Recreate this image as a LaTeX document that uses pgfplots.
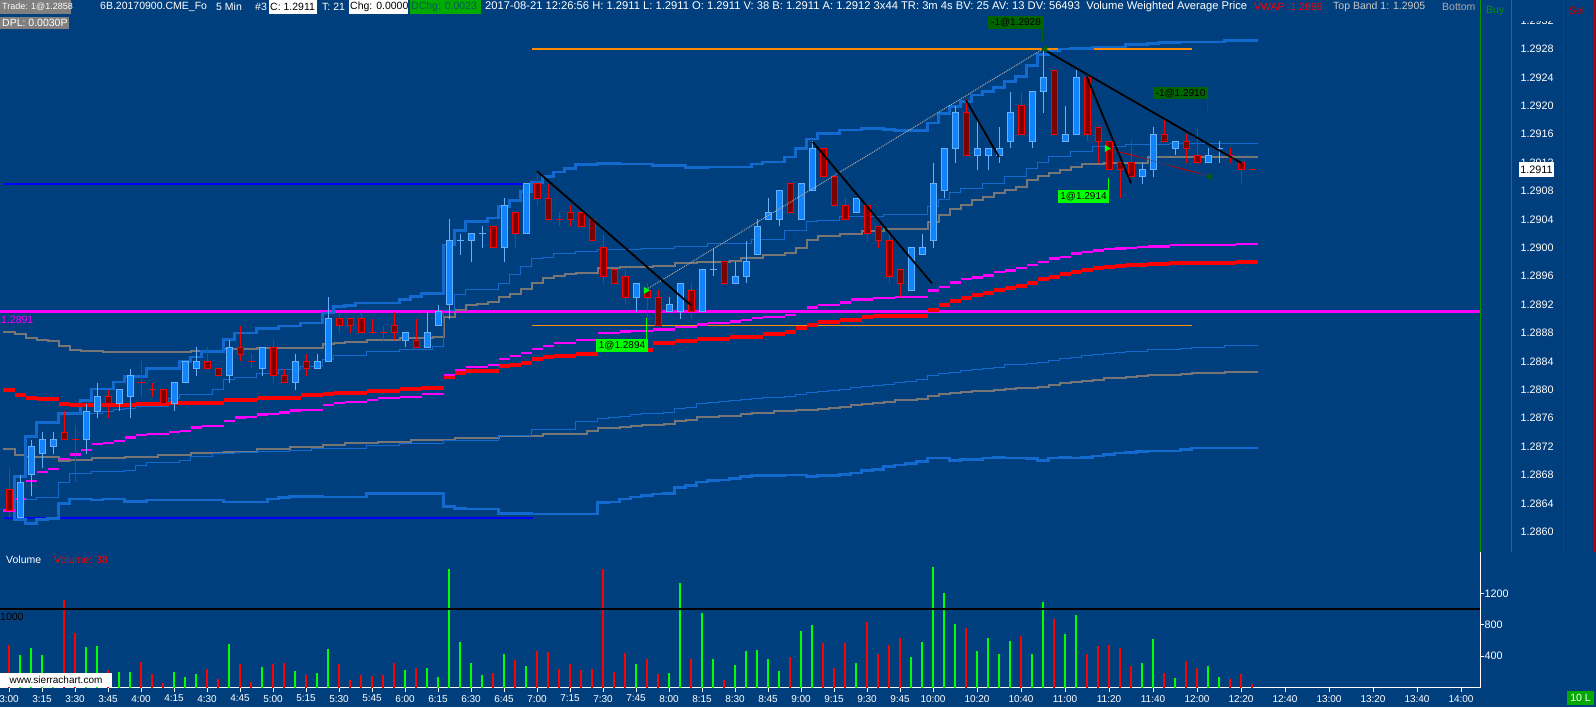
\documentclass[border=0pt]{standalone}
\usepackage{fontspec}
\setmainfont{Liberation Sans}
\usepackage{pgfplots}
\usepackage{pgfplotstable}
\pgfplotsset{compat=1.18}
\definecolor{bg}{RGB}{0,63,125}
\definecolor{upfill}{RGB}{16,132,255}
\definecolor{upline}{RGB}{100,178,255}
\definecolor{dnfill}{RGB}{128,0,0}
\definecolor{dnline}{RGB}{255,0,0}
\definecolor{band}{RGB}{18,106,206}
\definecolor{greyl}{RGB}{118,118,118}
\definecolor{vgreen}{RGB}{0,255,0}
\definecolor{vred}{RGB}{255,0,0}
\definecolor{orangel}{RGB}{255,140,0}
\definecolor{darkgr}{RGB}{0,100,0}
\definecolor{hdrgrey}{RGB}{128,128,128}
\definecolor{dchg}{RGB}{0,170,0}
\definecolor{dchgtext}{RGB}{0,90,90}
\definecolor{buyg}{RGB}{0,150,0}
\definecolor{sellr}{RGB}{200,0,0}
\definecolor{mag}{RGB}{255,0,255}
\definecolor{pureblue}{RGB}{0,0,255}

% i O H L C V  (up bars)
\pgfplotstableread{
i O H L C V
1 1.2862 1.2868 1.2862 1.2867 418
2 1.2868 1.2873 1.2865 1.2872 508
3 1.2871 1.2874 1.2869 1.2873 418
4 1.2872 1.2874 1.2871 1.2873 60
7 1.2873 1.2878 1.2871 1.2877 521
8 1.2877 1.2881 1.2876 1.2879 534
10 1.2878 1.2880 1.2877 1.2880 200
11 1.2879 1.2883 1.2876 1.2882 200
15 1.2878 1.2881 1.2877 1.2881 200
16 1.2881 1.2884 1.2881 1.2884 137
17 1.2883 1.2886 1.2882 1.2884 175
20 1.2882 1.2887 1.2881 1.2886 559
23 1.2883 1.2886 1.2882 1.2886 265
26 1.2881 1.2885 1.2880 1.2884 213
28 1.2883 1.2885 1.2883 1.2884 188
29 1.2884 1.2893 1.2884 1.2890 495
36 1.2887 1.2888 1.2886 1.2888 226
38 1.2886 1.2891 1.2886 1.2888 252
39 1.2889 1.2892 1.2889 1.2891 137
40 1.2892 1.2904 1.2890 1.2901 1507
41 1.2901 1.2902 1.2899 1.2901 585
42 1.2901 1.2902 1.2898 1.2902 316
43 1.2902 1.2903 1.2900 1.2902 162
45 1.2900 1.2907 1.2898 1.2906 431
47 1.2902 1.2909 1.2902 1.2909 278
57 1.2893 1.2895 1.2891 1.2895 303
60 1.2891 1.2893 1.2891 1.2892 188
61 1.2891 1.2895 1.2890 1.2895 1328
63 1.2891 1.2897 1.2891 1.2897 956
64 1.2897 1.2900 1.2896 1.2897 367
66 1.2895 1.2898 1.2895 1.2896 290
67 1.2896 1.2901 1.2895 1.2898 470
68 1.2899 1.2904 1.2899 1.2903 482
69 1.2904 1.2907 1.2904 1.2905 367
70 1.2904 1.2908 1.2903 1.2908 213
72 1.2904 1.2909 1.2904 1.2909 726
73 1.2908 1.2915 1.2908 1.2914 803
77 1.2905 1.2907 1.2905 1.2907 316
82 1.2894 1.2900 1.2894 1.2900 393
83 1.2899 1.2902 1.2899 1.2900 585
84 1.2901 1.2912 1.2900 1.2909 1533
85 1.2908 1.2914 1.2907 1.2914 1200
86 1.2914 1.2920 1.2912 1.2919 816
88 1.2913 1.2918 1.2911 1.2914 470
89 1.2913 1.2914 1.2911 1.2914 636
90 1.2913 1.2917 1.2912 1.2914 431
91 1.2915 1.2922 1.2914 1.2919 598
93 1.2915 1.2922 1.2914 1.2922 431
94 1.2922 1.2928 1.2919 1.2924 1085
96 1.2915 1.2920 1.2915 1.2916 687
97 1.2916 1.2925 1.2916 1.2924 931
103 1.2910 1.2912 1.2909 1.2911 316
104 1.2911 1.2917 1.2910 1.2916 623
106 1.2914 1.2915 1.2913 1.2915 124
109 1.2912 1.2914 1.2912 1.2913 278
110 1.2914 1.2915 1.2912 1.2914 137
}\upT

% down bars
\pgfplotstableread{
i O H L C V
0 1.2866 1.2869 1.2862 1.2863 547
5 1.2874 1.2877 1.2873 1.2873 1110
6 1.2873 1.2875 1.2867 1.2873 700
9 1.2879 1.2880 1.2876 1.2878 226
12 1.2881 1.2884 1.2879 1.2881 329
13 1.2880 1.2881 1.2879 1.2880 175
14 1.2880 1.2880 1.2878 1.2878 60
18 1.2884 1.2886 1.2883 1.2883 239
19 1.2883 1.2883 1.2882 1.2882 111
21 1.2886 1.2889 1.2884 1.2885 303
22 1.2884 1.2885 1.2883 1.2884 73
24 1.2886 1.2887 1.2881 1.2882 303
25 1.2882 1.2883 1.2881 1.2881 316
27 1.2884 1.2885 1.2882 1.2883 162
30 1.2890 1.2891 1.2888 1.2889 303
31 1.2890 1.2890 1.2888 1.2889 98
32 1.2890 1.2891 1.2888 1.2888 162
33 1.2888 1.2890 1.2888 1.2888 149
34 1.2888 1.2889 1.2887 1.2888 162
35 1.2889 1.2891 1.2887 1.2888 316
37 1.2887 1.2890 1.2886 1.2886 252
44 1.2903 1.2903 1.2900 1.2900 188
46 1.2905 1.2905 1.2900 1.2902 354
48 1.2909 1.2911 1.2906 1.2907 470
49 1.2907 1.2909 1.2904 1.2904 457
50 1.2904 1.2905 1.2903 1.2904 239
51 1.2905 1.2906 1.2903 1.2904 303
52 1.2905 1.2905 1.2903 1.2903 226
53 1.2904 1.2904 1.2901 1.2901 239
54 1.2900 1.2902 1.2895 1.2896 1507
55 1.2897 1.2897 1.2895 1.2895 200
56 1.2896 1.2897 1.2892 1.2893 444
58 1.2894 1.2895 1.2890 1.2893 367
59 1.2893 1.2894 1.2889 1.2889 175
62 1.2894 1.2895 1.2890 1.2891 367
65 1.2898 1.2898 1.2895 1.2895 98
71 1.2909 1.2909 1.2905 1.2905 393
74 1.2914 1.2914 1.2910 1.2910 572
75 1.2910 1.2910 1.2906 1.2906 252
76 1.2906 1.2907 1.2904 1.2904 572
78 1.2906 1.2906 1.2901 1.2902 841
79 1.2903 1.2903 1.2900 1.2901 431
80 1.2901 1.2902 1.2895 1.2896 547
81 1.2897 1.2897 1.2893 1.2895 636
87 1.2919 1.2921 1.2913 1.2913 764
92 1.2920 1.2922 1.2916 1.2916 662
95 1.2925 1.2925 1.2916 1.2916 880
98 1.2924 1.2924 1.2915 1.2916 431
99 1.2917 1.2917 1.2912 1.2915 534
100 1.2915 1.2915 1.2911 1.2911 547
101 1.2912 1.2912 1.2907 1.2911 508
102 1.2912 1.2915 1.2910 1.2910 278
105 1.2916 1.2918 1.2915 1.2915 188
107 1.2915 1.2916 1.2912 1.2914 342
108 1.2913 1.2917 1.2912 1.2912 252
111 1.2913 1.2914 1.2912 1.2913 111
112 1.2912 1.2912 1.2909 1.2911 175
113 1.2911 1.2911 1.2911 1.2911 47
}\dnT

\pgfplotstableread{
x y
-0.5 1.28800
0.5 1.28793
1.5 1.28789
2.5 1.28787
4.5 1.28780
5.5 1.28778
11.5 1.28780
14.5 1.28782
19.5 1.28786
22.5 1.28789
26.5 1.28792
28.5 1.28794
29.5 1.28795
30.5 1.28796
32.5 1.28799
35.5 1.28801
37.5 1.28802
39.5 1.28802
}\redA

\pgfplotstableread{
x y
39.5 1.28818
40.5 1.28823
41.5 1.28826
43.5 1.28827
44.5 1.28833
45.5 1.28835
46.5 1.28838
47.5 1.28843
48.5 1.28846
49.5 1.28848
51.5 1.28851
53.5 1.28856
58.5 1.28866
60.5 1.28869
62.5 1.28871
65.5 1.28875
68.5 1.28879
70.5 1.28882
71.5 1.28887
72.5 1.28891
73.5 1.28895
75.5 1.28898
77.5 1.28902
78.5 1.28904
83.5 1.28913
84.5 1.28919
85.5 1.28925
86.5 1.28929
87.5 1.28934
88.5 1.28937
89.5 1.28940
90.5 1.28943
91.5 1.28946
92.5 1.28951
93.5 1.28956
94.5 1.28959
95.5 1.28963
96.5 1.28966
97.5 1.28969
98.5 1.28971
99.5 1.28973
100.5 1.28974
101.5 1.28976
103.5 1.28977
105.5 1.28978
108.5 1.28979
111.5 1.28980
113.5 1.28980
}\redB

\pgfplotstableread{
x y
-0.5 1.28630
0.5 1.28646
1.5 1.28672
2.5 1.28684
3.5 1.28688
4.5 1.28703
5.5 1.28709
6.5 1.28715
7.5 1.28724
8.5 1.28725
9.5 1.28728
10.5 1.28733
11.5 1.28736
12.5 1.28738
14.5 1.28741
15.5 1.28742
16.5 1.28747
17.5 1.28749
19.5 1.28756
20.5 1.28761
21.5 1.28762
22.5 1.28765
23.5 1.28766
24.5 1.28768
25.5 1.28771
26.5 1.28772
28.5 1.28779
29.5 1.28781
30.5 1.28783
32.5 1.28786
33.5 1.28788
35.5 1.28790
37.5 1.28794
39.5 1.28794
}\magA

\pgfplotstableread{
x y
39.5 1.28821
40.5 1.28828
41.5 1.28832
43.5 1.28835
44.5 1.28843
45.5 1.28848
46.5 1.28852
47.5 1.28857
48.5 1.28862
49.5 1.28866
51.5 1.28870
53.5 1.28880
55.5 1.28882
56.5 1.28883
58.5 1.28885
60.5 1.28888
62.5 1.28892
63.5 1.28894
65.5 1.28896
66.5 1.28898
67.5 1.28901
68.5 1.28903
70.5 1.28905
71.5 1.28910
72.5 1.28916
73.5 1.28919
75.5 1.28923
76.5 1.28927
78.5 1.28929
80.5 1.28931
83.5 1.28940
84.5 1.28945
85.5 1.28951
86.5 1.28956
87.5 1.28958
88.5 1.28961
89.5 1.28966
90.5 1.28968
91.5 1.28972
92.5 1.28976
93.5 1.28980
94.5 1.28985
95.5 1.28987
96.5 1.28992
97.5 1.28994
98.5 1.28996
99.5 1.28998
100.5 1.28999
101.5 1.29000
102.5 1.29001
103.5 1.29002
105.5 1.29004
111.5 1.29005
113.5 1.29005
}\magB

\pgfplotstableread{
x y
-0.5 1.28630
0.5 1.28678
1.5 1.28734
2.5 1.28754
4.5 1.28767
6.5 1.28785
7.5 1.28801
9.5 1.28811
10.5 1.28819
12.5 1.28830
15.5 1.28840
16.5 1.28846
17.5 1.28854
19.5 1.28871
20.5 1.28880
22.5 1.28886
24.5 1.28890
26.5 1.28894
28.5 1.28908
29.5 1.28917
30.5 1.28919
31.5 1.28922
35.5 1.28927
36.5 1.28931
37.5 1.28936
39.5 1.29004
40.5 1.29024
41.5 1.29037
43.5 1.29042
44.5 1.29058
45.5 1.29067
46.5 1.29079
47.5 1.29092
48.5 1.29100
49.5 1.29107
50.5 1.29112
51.5 1.29117
53.5 1.29119
55.5 1.29118
58.5 1.29116
61.5 1.29113
63.5 1.29114
67.5 1.29118
68.5 1.29121
70.5 1.29128
71.5 1.29140
72.5 1.29153
73.5 1.29161
75.5 1.29166
77.5 1.29168
79.5 1.29167
80.5 1.29165
83.5 1.29176
84.5 1.29189
85.5 1.29199
86.5 1.29206
87.5 1.29215
88.5 1.29220
89.5 1.29226
90.5 1.29234
91.5 1.29241
92.5 1.29257
93.5 1.29272
94.5 1.29277
95.5 1.29280
96.5 1.29281
98.5 1.29283
101.5 1.29286
103.5 1.29288
104.5 1.29289
106.5 1.29290
110.5 1.29292
113.5 1.29292
}\bandU

\pgfplotstableread{
x y
-0.5 1.28630
0.5 1.28617
1.5 1.28612
2.5 1.28617
3.5 1.28619
4.5 1.28640
5.5 1.28646
7.5 1.28645
8.5 1.28646
10.5 1.28643
12.5 1.28645
19.5 1.28642
23.5 1.28646
24.5 1.28648
25.5 1.28650
28.5 1.28649
32.5 1.28654
39.5 1.28636
40.5 1.28633
41.5 1.28632
44.5 1.28626
47.5 1.28625
53.5 1.28641
54.5 1.28642
55.5 1.28646
56.5 1.28649
57.5 1.28651
58.5 1.28653
59.5 1.28654
60.5 1.28662
61.5 1.28665
62.5 1.28670
63.5 1.28672
64.5 1.28673
65.5 1.28675
66.5 1.28678
67.5 1.28679
70.5 1.28680
72.5 1.28678
73.5 1.28679
75.5 1.28681
76.5 1.28683
77.5 1.28686
78.5 1.28688
79.5 1.28692
80.5 1.28694
81.5 1.28696
82.5 1.28699
83.5 1.28704
85.5 1.28700
86.5 1.28702
88.5 1.28704
89.5 1.28705
90.5 1.28704
92.5 1.28703
93.5 1.28700
94.5 1.28704
95.5 1.28705
96.5 1.28704
97.5 1.28705
98.5 1.28707
99.5 1.28709
100.5 1.28711
101.5 1.28712
102.5 1.28713
103.5 1.28714
106.5 1.28716
107.5 1.28718
113.5 1.28718
}\bandL

\pgfplotstableread{
x y
-0.5 1.28882
0.5 1.28878
1.5 1.28873
2.5 1.28870
3.5 1.28869
4.5 1.28861
5.5 1.28856
6.5 1.28854
8.5 1.28853
16.5 1.28854
18.5 1.28855
19.5 1.28857
22.5 1.28859
28.5 1.28864
29.5 1.28866
30.5 1.28868
32.5 1.28870
35.5 1.28873
38.5 1.28875
39.5 1.28903
40.5 1.28912
41.5 1.28919
42.5 1.28921
43.5 1.28923
44.5 1.28931
45.5 1.28935
46.5 1.28942
47.5 1.28950
48.5 1.28958
49.5 1.28960
50.5 1.28963
51.5 1.28965
53.5 1.28971
55.5 1.28973
58.5 1.28975
60.5 1.28978
62.5 1.28980
65.5 1.28982
66.5 1.28985
68.5 1.28990
70.5 1.28993
71.5 1.29000
72.5 1.29011
73.5 1.29016
75.5 1.29020
77.5 1.29024
79.5 1.29026
83.5 1.29037
84.5 1.29046
85.5 1.29054
86.5 1.29060
87.5 1.29067
88.5 1.29071
89.5 1.29077
90.5 1.29081
91.5 1.29086
92.5 1.29096
93.5 1.29101
94.5 1.29105
95.5 1.29110
96.5 1.29114
97.5 1.29118
99.5 1.29120
103.5 1.29128
113.5 1.29128
}\greyU

\pgfplotstableread{
x y
-0.5 1.28717
0.5 1.28708
1.5 1.28706
4.5 1.28700
5.5 1.28701
7.5 1.28704
10.5 1.28706
13.5 1.28708
16.5 1.28711
19.5 1.28713
22.5 1.28716
25.5 1.28720
28.5 1.28722
30.5 1.28725
33.5 1.28727
36.5 1.28729
40.5 1.28732
44.5 1.28735
48.5 1.28738
52.5 1.28742
53.5 1.28746
55.5 1.28748
56.5 1.28749
57.5 1.28751
59.5 1.28752
60.5 1.28756
61.5 1.28758
62.5 1.28762
64.5 1.28763
66.5 1.28766
67.5 1.28767
69.5 1.28770
71.5 1.28772
73.5 1.28773
74.5 1.28775
75.5 1.28776
76.5 1.28778
77.5 1.28780
78.5 1.28782
79.5 1.28783
80.5 1.28785
81.5 1.28786
82.5 1.28787
83.5 1.28791
84.5 1.28794
85.5 1.28796
86.5 1.28797
87.5 1.28798
89.5 1.28800
90.5 1.28801
91.5 1.28803
93.5 1.28804
94.5 1.28807
95.5 1.28809
96.5 1.28811
97.5 1.28812
98.5 1.28814
99.5 1.28816
100.5 1.28817
101.5 1.28818
102.5 1.28819
103.5 1.28821
106.5 1.28822
107.5 1.28824
110.5 1.28825
113.5 1.28825
}\greyL

\pgfplotstableread{
x y
6.5 1.28767
8.5 1.28769
9.5 1.28772
10.5 1.28774
11.5 1.28776
14.5 1.28788
15.5 1.28793
18.5 1.28801
19.5 1.28814
20.5 1.28818
22.5 1.28823
24.5 1.28828
26.5 1.28833
28.5 1.28843
29.5 1.28849
32.5 1.28854
35.5 1.28857
38.5 1.28861
39.5 1.28911
40.5 1.28934
41.5 1.28941
44.5 1.28950
45.5 1.28963
46.5 1.28974
47.5 1.28985
48.5 1.28987
49.5 1.28992
51.5 1.28995
53.5 1.28998
57.5 1.28999
60.5 1.29002
63.5 1.29006
67.5 1.29011
70.5 1.29024
72.5 1.29037
73.5 1.29039
75.5 1.29044
79.5 1.29047
83.5 1.29058
84.5 1.29068
85.5 1.29078
86.5 1.29083
88.5 1.29091
90.5 1.29100
92.5 1.29112
93.5 1.29120
94.5 1.29128
96.5 1.29135
98.5 1.29142
101.5 1.29146
105.5 1.29147
113.5 1.29147
}\thinU

\pgfplotstableread{
x y
0.5 1.28645
2.5 1.28649
4.5 1.28669
5.5 1.28682
7.5 1.28685
10.5 1.28687
11.5 1.28694
12.5 1.28697
15.5 1.28701
16.5 1.28706
18.5 1.28710
20.5 1.28711
22.5 1.28713
25.5 1.28715
27.5 1.28718
32.5 1.28721
35.5 1.28724
39.5 1.28728
44.5 1.28735
47.5 1.28744
51.5 1.28755
53.5 1.28759
54.5 1.28761
55.5 1.28763
56.5 1.28765
57.5 1.28767
59.5 1.28768
60.5 1.28773
61.5 1.28775
62.5 1.28780
63.5 1.28782
64.5 1.28783
65.5 1.28785
66.5 1.28787
67.5 1.28788
68.5 1.28789
70.5 1.28791
71.5 1.28794
72.5 1.28796
73.5 1.28798
74.5 1.28799
75.5 1.28801
76.5 1.28803
77.5 1.28804
78.5 1.28806
79.5 1.28808
80.5 1.28810
81.5 1.28811
82.5 1.28815
83.5 1.28820
84.5 1.28823
85.5 1.28825
86.5 1.28827
87.5 1.28829
88.5 1.28830
89.5 1.28831
90.5 1.28835
91.5 1.28836
92.5 1.28837
93.5 1.28838
94.5 1.28841
95.5 1.28844
96.5 1.28845
97.5 1.28848
98.5 1.28850
99.5 1.28851
100.5 1.28853
101.5 1.28854
103.5 1.28857
106.5 1.28858
107.5 1.28859
110.5 1.28862
113.5 1.28862
}\thinL

\tikzset{hdr/.style={font=\fontsize{10.5}{12}\selectfont, anchor=west, inner sep=0pt, text=white}}

\begin{document}
\begin{tikzpicture}[x=1pt,y=1pt]
\fill[bg] (0,0) rectangle (1596,707);
\useasboundingbox (0,0) rectangle (1596,707);

% ===== price panel =====
\begin{axis}[at={(0pt,159pt)}, anchor=south west, scale only axis,
  width=1480pt, height=548pt,
  xmin=-0.81818, xmax=133.72727, ymin=1.2857718, ymax=1.2934901,
  axis line style={draw=none}, xtick=\empty,
  ytick={1.2860,1.2864,1.2868,1.2872,1.2876,1.2880,1.2884,1.2888,1.2892,1.2896,1.2900,1.2904,1.2908,1.2912,1.2916,1.2920,1.2924,1.2928,1.2932},
  scaled y ticks=false, yticklabel pos=right, major tick length=0pt,
  yticklabel={\pgfmathprintnumber[fixed,fixed zerofill,precision=4,assume math mode=true]{\tick}},
  yticklabel style={font=\fontsize{10.8}{12}\selectfont, text=white, anchor=center, xshift=57pt},
  clip mode=individual]
 % horizontal reference lines
 \addplot[mag, line width=2.5pt] coordinates {(-0.82,1.2891) (133.73,1.2891)};
 \addplot[pureblue, line width=2pt] coordinates {(-0.45,1.2909) (47.4,1.2909)};
 \addplot[pureblue, line width=2pt] coordinates {(-0.45,1.2862) (47.6,1.2862)};
 \addplot[orangel, line width=1.2pt] coordinates {(47.5,1.2928) (107.5,1.2928)};
 \addplot[orangel, line width=1.2pt] coordinates {(47.5,1.2889) (107.5,1.2889)};
 % studies
 \addplot[greyl, line width=2pt, const plot mark left] table[x=x,y=y]{\greyL};
 \addplot[band, line width=1pt, const plot mark left] table[x=x,y=y]{\thinL};
 \addplot[band, line width=2.6pt, const plot mark left] table[x=x,y=y]{\bandL};
 \addplot[greyl, line width=2pt, const plot mark left] table[x=x,y=y]{\greyU};
 \addplot[band, line width=1pt, const plot mark left] table[x=x,y=y]{\thinU};
 \addplot[band, line width=2.6pt, const plot mark left] table[x=x,y=y]{\bandU};
 \addplot[vred, line width=4pt, jump mark left] table[x=x,y=y]{\redA};
 \addplot[vred, line width=4pt, jump mark left] table[x=x,y=y]{\redB};
 \addplot[mag, line width=2.3pt, jump mark left] table[x=x,y=y]{\magA};
 \addplot[mag, line width=2.3pt, jump mark left] table[x=x,y=y]{\magB};
 % candles: wicks
 \addplot[upline, line width=1pt, quiver={u=0, v=\thisrow{H}-\thisrow{L}}] table[x=i,y=L]{\upT};
 \addplot[dnline, line width=1pt, quiver={u=0, v=\thisrow{H}-\thisrow{L}}] table[x=i,y=L]{\dnT};
 % bodies
 \addplot[upline, line width=7pt, quiver={u=0, v=\thisrow{C}-\thisrow{O}}] table[x=i,y=O]{\upT};
 \addplot[upfill, line width=5pt, quiver={u=0, v=\thisrow{C}-\thisrow{O}}] table[x=i,y=O]{\upT};
 \addplot[dnline, line width=7pt, quiver={u=0, v=\thisrow{C}-\thisrow{O}}] table[x=i,y=O]{\dnT};
 \addplot[dnfill, line width=5pt, quiver={u=0, v=\thisrow{C}-\thisrow{O}}] table[x=i,y=O]{\dnT};
 \addplot[only marks, mark=-, mark size=3.5pt, mark options={draw=upline, line width=1pt}] table[x=i,y=O]{\upT};
 \addplot[only marks, mark=-, mark size=3.5pt, mark options={draw=upline, line width=1pt}] table[x=i,y=C]{\upT};
 \addplot[only marks, mark=-, mark size=3.5pt, mark options={draw=dnline, line width=1pt}] table[x=i,y=O]{\dnT};
 \addplot[only marks, mark=-, mark size=3.5pt, mark options={draw=dnline, line width=1pt}] table[x=i,y=C]{\dnT};
 % drawings
 \addplot[color={rgb,255:red,170;green,170;blue,170}, densely dotted, line width=1pt] coordinates {(57.8,1.2894) (94.0,1.2928)};
 \addplot[red!85!black, densely dotted, line width=1pt] coordinates {(99.8,1.2914) (109.3,1.2910)};
 \addplot[black, line width=1.8pt] coordinates {(48.0,1.29108) (62.0,1.28919)};
 \addplot[black, line width=1.8pt] coordinates {(73.07,1.29149) (83.9,1.28950)};
 \addplot[black, line width=1.8pt] coordinates {(87.0,1.29208) (90.0,1.29128)};
 \addplot[black, line width=1.8pt] coordinates {(94.0,1.2928) (112.06,1.29119)};
 \addplot[black, line width=1.8pt] coordinates {(97.97,1.29241) (102.0,1.29091)};
 % trade connectors
 \addplot[vgreen, line width=1pt] coordinates {(57.91,1.28901) (57.91,1.28871)};
 \addplot[darkgr, line width=1pt] coordinates {(93.94,1.29308) (93.94,1.29290)};
 \addplot[vgreen, line width=1pt] coordinates {(99.94,1.29098) (99.94,1.29081)};
 \addplot[darkgr, line width=1pt] coordinates {(108.94,1.29209) (108.94,1.29190)};
 % trade markers
 \addplot[only marks, mark=triangle*, mark size=3.6pt, mark options={rotate=-90, fill=vgreen, draw=vgreen}] coordinates {(57.9,1.2894) (99.8,1.2914)};
 \addplot[only marks, mark=triangle*, mark size=3.6pt, mark options={rotate=90, fill=darkgr, draw=darkgr}] coordinates {(94.2,1.2928) (109.2,1.2910)};
\end{axis}

% ===== volume panel =====
\begin{axis}[at={(0pt,19.5pt)}, anchor=south west, scale only axis,
  width=1480pt, height=135.5pt,
  xmin=-0.81818, xmax=133.72727, ymin=0, ymax=1728.3,
  axis x line*=bottom, axis y line*=right,
  axis line style={white, line width=1pt, -},
  tick align=outside, major tick length=4pt,
  tick style={white, line width=1pt},
  ytick={400,800,1200},
  yticklabel style={font=\fontsize{10.8}{12}\selectfont, text=white, xshift=-3pt},
  /pgf/number format/assume math mode=true,
  /pgf/number format/1000 sep={},
  xtick={0,3,6,9,12,15,18,21,24,27,30,33,36,39,42,45,48,51,54,57,60,63,66,69,72,75,78,81,84,88,92,96,100,104,108,112,116,120,124,128,132},
  xticklabels={3:00,3:15,3:30,3:45,4:00,4:15,4:30,4:45,5:00,5:15,5:30,5:45,6:00,6:15,6:30,6:45,7:00,7:15,7:30,7:45,8:00,8:15,8:30,8:45,9:00,9:15,9:30,9:45,10:00,10:20,10:40,11:00,11:20,11:40,12:00,12:20,12:40,13:00,13:20,13:40,14:00},
  xticklabel style={font=\fontsize{10}{11}\selectfont, text=white},
  clip mode=individual]
 \addplot[vgreen, ycomb, line width=2pt] table[x=i,y=V]{\upT};
 \addplot[vred, ycomb, line width=2pt] table[x=i,y=V]{\dnT};
 \addplot[black, line width=2pt] coordinates {(-0.82,1000) (133.73,1000)};
\end{axis}

% ===== right-hand columns =====
\fill[bg] (1512,686) rectangle (1562,707);
\draw[buyg, line width=1pt] (1480.5,155) -- (1480.5,707);
\draw[buyg, line width=1pt] (1511.5,155) -- (1511.5,707);
\draw[sellr, line width=1pt] (1563.5,155) -- (1563.5,707);
\draw[sellr, line width=1pt] (1594.5,155) -- (1594.5,707);
\node[hdr, text=buyg] at (1486,696.5) {Buy};
\node[hdr, text=sellr] at (1569,696.5) {Sell};
\fill[white] (1519,529.5) rectangle (1554,544.5);
\node[font=\fontsize{10.8}{12}\selectfont, text=black, inner sep=0pt] at (1536.5,537) {1.2911};
\fill[dchg] (1567,2) rectangle (1594,16);
\node[font=\fontsize{10.5}{12}\selectfont, text=white, inner sep=0pt] at (1580.5,9) {10 L};

% ===== labels on chart =====
\node[hdr, text=mag] at (1,387.5) {1.2891};
\node[hdr] at (6,147) {Volume};
\node[hdr, text=vred] at (54,147) {Volume: 38};
\node[hdr, text=black] at (0,90) {1000};
\fill[white] (0,20) rectangle (112,34);
\node[font=\fontsize{10}{11}\selectfont, text=black, inner sep=0pt] at (56,27) {www.sierrachart.com};

\node[fill=vgreen, text=black, font=\fontsize{10}{11}\selectfont, inner sep=0pt, minimum width=52pt, minimum height=12.5pt] at (622,361.5) {1@1.2894};
\node[fill=darkgr, text=black, font=\fontsize{10}{11}\selectfont, inner sep=0pt, minimum width=56pt, minimum height=13pt] at (1016,684.5) {-1@1.2928};
\node[fill=vgreen, text=black, font=\fontsize{10}{11}\selectfont, inner sep=0pt, minimum width=51pt, minimum height=12.7pt] at (1083.5,510.7) {1@1.2914};
\node[fill=darkgr, text=black, font=\fontsize{10}{11}\selectfont, inner sep=0pt, minimum width=55pt, minimum height=12pt] at (1180.5,613.7) {-1@1.2910};

% ===== header =====
\fill[hdrgrey] (0,693) rectangle (71,707);
\node[hdr, font=\fontsize{9}{10}\selectfont] at (2,700) {Trade: 1@1.2858};
\node[hdr] at (100,700) {6B.20170900.CME\_Fo};
\node[hdr] at (216,700) {5 Min};
\node[hdr] at (255,700) {\#3};
\fill[white] (269,693) rectangle (317,707);
\node[hdr, text=black] at (270,700) {C: 1.2911};
\node[hdr] at (322,700) {T: 21};
\fill[white] (348.5,693) rectangle (408,707);
\node[hdr, text=black] at (350,700) {Chg: 0.0000};
\fill[dchg] (410,693) rectangle (481,707);
\node[hdr, text=dchgtext] at (411,700) {DChg: 0.0023};
\node[hdr, font=\fontsize{11.2}{12}\selectfont] at (485,700) {2017-08-21 12:26:56 H: 1.2911 L: 1.2911 O: 1.2911 V: 38 B: 1.2911 A: 1.2912 3x44 TR: 3m 4s BV: 25 AV: 13 DV: 56493\ \ Volume Weighted Average Price};
\node[hdr, text=vred] at (1254,700) {VWAP: 1.2898};
\node[hdr, text={rgb,255:red,200;green,200;blue,200}] at (1333,700) {Top Band 1: 1.2905};
\node[hdr, text={rgb,255:red,170;green,170;blue,170}] at (1442,700) {Bottom};
\fill[hdrgrey] (0,678) rectangle (69,690);
\node[hdr] at (2,684) {DPL: 0.0030P};
\end{tikzpicture}
\end{document}
